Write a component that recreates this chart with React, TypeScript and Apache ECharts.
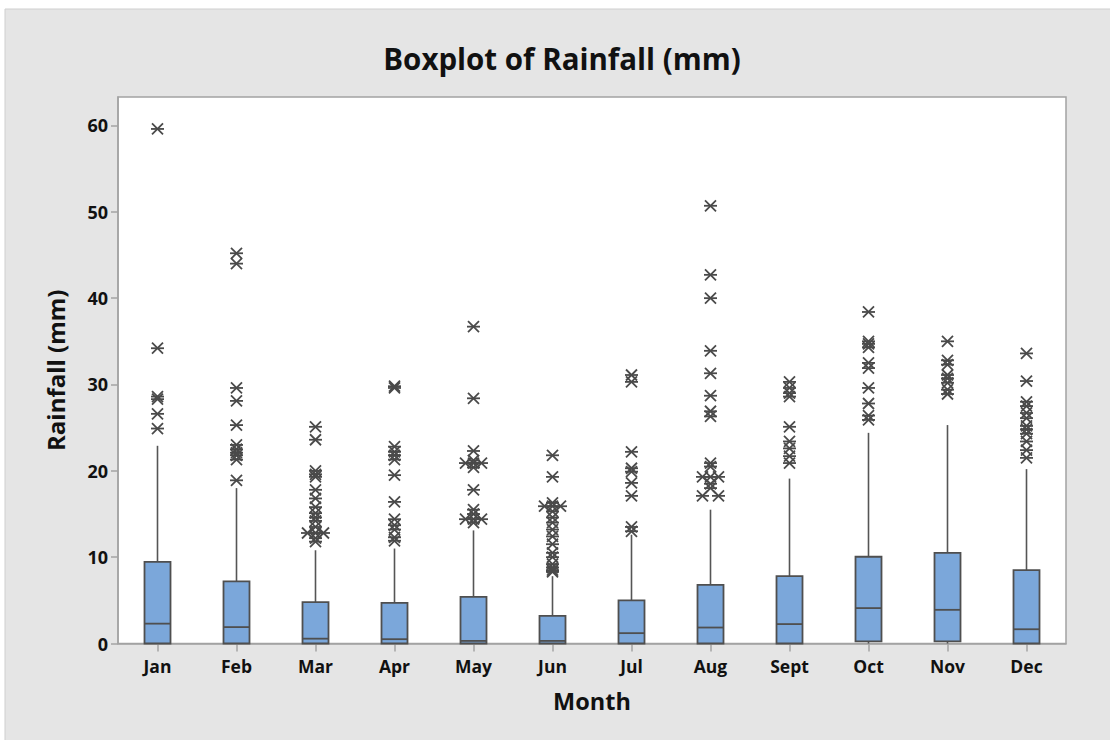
import React, { useEffect, useRef } from "react";
import * as echarts from "echarts";

const months = ["Jan", "Feb", "Mar", "Apr", "May", "Jun", "Jul", "Aug", "Sept", "Oct", "Nov", "Dec"];
const whiskerLow = [0, 0, 0, 0, 0, 0, 0, 0, 0, 0, 0, 0];
const q1 = [0, 0, 0, 0, 0, 0, 0, 0, 0, 0.25, 0.25, 0];
const medians = [2.3, 1.9, 0.56, 0.5, 0.3, 0.3, 1.2, 1.85, 2.25, 4.1, 3.9, 1.65];
const q3 = [9.45, 7.2, 4.8, 4.7, 5.4, 3.2, 5.0, 6.8, 7.8, 10.05, 10.5, 8.5];
const whiskerHigh = [22.9, 18.0, 10.8, 11.0, 13.1, 7.8, 12.6, 15.5, 19.1, 24.4, 25.3, 20.2];

const janOutliers = [59.6, 34.2, 28.6, 28.3, 26.6, 24.9];
const febOutliers = [45.2, 44.0, 29.6, 28.1, 25.3, 23.0, 22.5, 22.1, 21.8, 21.3, 18.9];
const marOutliers = [25.1, 23.6, 20.0, 19.6, 19.3, 17.8, 16.8, 15.8, 15.1, 14.6, 14.2, 13.5, 12.8, 12.8, 12.8, 12.2, 11.8];
const aprOutliers = [29.8, 29.6, 22.8, 22.2, 21.8, 21.3, 19.5, 16.4, 14.4, 13.7, 13.2, 12.3, 11.9];
const mayOutliers = [36.7, 28.4, 22.3, 21.2, 20.9, 20.9, 20.9, 20.4, 17.8, 15.5, 15.0, 14.4, 14.4, 14.4, 14.0];
const junOutliers = [21.8, 19.3, 16.3, 15.9, 15.9, 15.9, 15.3, 14.6, 14.0, 13.2, 12.4, 11.5, 10.5, 10.0, 9.2, 8.8, 8.5, 8.3];
const julOutliers = [31.1, 30.3, 22.2, 20.3, 19.9, 18.6, 17.1, 13.5, 13.0];
const augOutliers = [50.7, 42.7, 40.0, 33.9, 31.3, 28.7, 26.9, 26.3, 20.9, 20.5, 19.3, 19.3, 19.3, 18.5, 18.0, 17.1, 17.1];
const sepOutliers = [30.3, 29.6, 29.0, 28.6, 25.1, 23.4, 22.6, 21.7, 20.9];
const octOutliers = [38.4, 35.0, 34.7, 34.3, 32.5, 31.9, 29.6, 27.8, 26.4, 25.9];
const novOutliers = [35.0, 32.8, 32.3, 31.1, 30.7, 30.2, 29.4, 28.9];
const decOutliers = [33.6, 30.4, 28.0, 27.5, 26.7, 26.1, 25.2, 24.8, 24.3, 23.4, 22.4, 21.5];

const outliersByMonth = [
  janOutliers, febOutliers, marOutliers, aprOutliers, mayOutliers, junOutliers,
  julOutliers, augOutliers, sepOutliers, octOutliers, novOutliers, decOutliers,
];

const yTicks = [0, 10, 20, 30, 40, 50, 60];

const FONT = "'Open Sans', 'Noto Sans', sans-serif";
const BOX_FILL = "#7BA7DA";
const LINE = "#555555";
const FRAME = "#a3a3a3";

export default function App() {
  const ref = useRef<HTMLDivElement>(null);

  useEffect(() => {
    if (!ref.current) return;
    const chart = echarts.init(ref.current, null, { renderer: "svg" });

    const boxData = months.map((_, i) => [i, whiskerLow[i], q1[i], medians[i], q3[i], whiskerHigh[i]]);

    const outlierData: number[][] = [];
    outliersByMonth.forEach((arr, i) => {
      const counts: Record<string, number> = {};
      arr.forEach((v) => { counts[String(v)] = (counts[String(v)] || 0) + 1; });
      const seen: Record<string, number> = {};
      arr.forEach((v) => {
        const key = String(v);
        const n = counts[key];
        const k = seen[key] || 0;
        seen[key] = k + 1;
        const spacing = n === 2 ? 16 : 8;
        const off = n > 1 ? (k - (n - 1) / 2) * spacing : 0;
        outlierData.push([i, v, off]);
      });
    });

    const option: any = {
      animation: false,
      backgroundColor: "#ffffff",
      graphic: [
        {
          type: "rect",
          z: -10,
          silent: true,
          shape: { x: 5, y: 9, width: 1110, height: 740 },
          style: { fill: "#e5e5e5", stroke: "#cfcfcf", lineWidth: 1 },
        },
        {
          type: "text",
          z: 10,
          x: 562,
          y: 58,
          style: {
            text: "Boxplot of Rainfall (mm)",
            fill: "#111111",
            font: `bold 29.5px ${FONT}`,
            textAlign: "center",
            textVerticalAlign: "middle",
          },
        },
      ],
      grid: {
        left: 118,
        right: 44,
        top: 97,
        bottom: 96.5,
        show: true,
        backgroundColor: "#ffffff",
        borderColor: FRAME,
        borderWidth: 1.5,
      },
      xAxis: {
        type: "category",
        data: months,
        boundaryGap: true,
        name: "Month",
        nameLocation: "middle",
        nameGap: 45,
        nameTextStyle: { fontFamily: FONT, fontWeight: "bold", fontSize: 23.5, color: "#111" },
        axisLine: { show: true, lineStyle: { color: FRAME, width: 1.5 } },
        axisTick: { show: true, alignWithLabel: true, length: 8, lineStyle: { color: FRAME, width: 1.5 } },
        axisLabel: { fontFamily: FONT, fontWeight: "bold", fontSize: 17.5, color: "#111", margin: 13 },
        splitLine: { show: false },
      },
      yAxis: {
        type: "value",
        min: 0,
        max: 63.3,
        interval: 10,
        name: "Rainfall (mm)",
        nameLocation: "middle",
        nameGap: 51,
        nameRotate: 90,
        nameTextStyle: { fontFamily: FONT, fontWeight: "bold", fontSize: 24, color: "#111" },
        axisLine: { show: true, lineStyle: { color: FRAME, width: 1.5 } },
        axisTick: { show: true, length: 7, customValues: yTicks, lineStyle: { color: FRAME, width: 1.5 } },
        axisLabel: {
          fontFamily: FONT,
          fontWeight: "bold",
          fontSize: 18,
          color: "#111",
          margin: 10,
          customValues: yTicks,
          formatter: (v: number) => (Math.abs(v % 10) < 1e-6 ? String(v) : ""),
        },
        splitLine: { show: false },
      },
      series: [
        {
          type: "custom",
          name: "boxes",
          data: boxData,
          encode: { x: 0, y: [1, 2, 3, 4, 5] },
          renderItem: (params: any, api: any) => {
            const idx = api.value(0);
            const pMin = api.coord([idx, api.value(1)]);
            const pQ1 = api.coord([idx, api.value(2)]);
            const pMed = api.coord([idx, api.value(3)]);
            const pQ3 = api.coord([idx, api.value(4)]);
            const pMax = api.coord([idx, api.value(5)]);
            const cx = pMed[0];
            const w = 26;
            const lineStyle = { stroke: LINE, lineWidth: 1.6 };
            const children: any[] = [
              { type: "line", shape: { x1: cx, y1: pQ3[1], x2: cx, y2: pMax[1] }, style: lineStyle },
            ];
            if (pMin[1] - pQ1[1] > 0.5) {
              children.push({ type: "line", shape: { x1: cx, y1: pQ1[1], x2: cx, y2: pMin[1] }, style: lineStyle });
            }
            children.push({
              type: "rect",
              shape: { x: cx - w / 2, y: pQ3[1], width: w, height: pQ1[1] - pQ3[1] },
              style: { fill: BOX_FILL, stroke: "#4f4f4f", lineWidth: 1.8 },
            });
            children.push({
              type: "line",
              shape: { x1: cx - w / 2, y1: pMed[1], x2: cx + w / 2, y2: pMed[1] },
              style: { stroke: "#4f4f4f", lineWidth: 1.8 },
            });
            return { type: "group", children };
          },
          z: 2,
        },
        {
          type: "custom",
          name: "outliers",
          data: outlierData,
          encode: { x: 0, y: 1 },
          renderItem: (params: any, api: any) => {
            const p = api.coord([api.value(0), api.value(1)]);
            const x = p[0] + api.value(2);
            const y = p[1];
            const s = 6.5;
            const d = 5.5;
            const style = { stroke: "#4a4a4a", lineWidth: 1.8 };
            return {
              type: "group",
              children: [
                { type: "line", shape: { x1: x - s, y1: y, x2: x + s, y2: y }, style },
                { type: "line", shape: { x1: x - s + 1, y1: y - d, x2: x + s - 1, y2: y + d }, style },
                { type: "line", shape: { x1: x - s + 1, y1: y + d, x2: x + s - 1, y2: y - d }, style },
              ],
            };
          },
          z: 3,
        },
      ],
    };

    chart.setOption(option);
    return () => chart.dispose();
  }, []);

  return (
    <div
      ref={ref}
      style={{ position: "absolute", left: 0, top: 0, width: 1110, height: 740 }}
    />
  );
}
